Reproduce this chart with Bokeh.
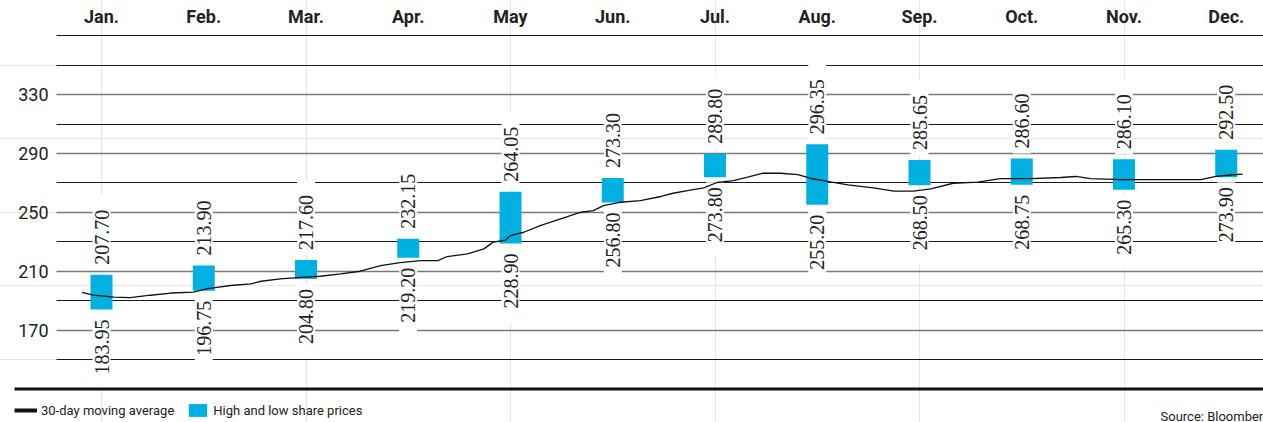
import numpy as np
from bokeh.plotting import figure
from bokeh.models import (Range1d, FixedTicker, Grid, BoxAnnotation, Legend,
                          LegendItem, Label, ColumnDataSource)
from bokeh.core.properties import value
from bokeh.embed import file_html
from bokeh.resources import INLINE

# ---------------- data ----------------
months = ["Jan.", "Feb.", "Mar.", "Apr.", "May", "Jun.", "Jul.", "Aug.",
          "Sep.", "Oct.", "Nov.", "Dec."]
month_idx = list(range(12))
high = [207.70, 213.90, 217.60, 232.15, 264.05, 273.30, 289.80, 296.35,
        285.65, 286.60, 286.10, 292.50]
low = [183.95, 196.75, 204.80, 219.20, 228.90, 256.80, 273.80, 255.20,
       268.50, 268.75, 265.30, 273.90]

y_label_ticks = [170, 210, 250, 290, 330]
y_label_text = ["170", "210", "250", "290", "330"]
y_plain_ticks = [150, 190, 230, 270, 310, 350, 370]
base_value = 130

# 30-day moving average (x in month positions)
ma_pos = [-0.19, -0.08, 0.12, 0.28, 0.48, 0.68, 0.90, 1.04, 1.13, 1.26, 1.46,
          1.56, 1.75, 1.95, 2.14, 2.34, 2.53, 2.73, 2.92, 3.12, 3.29, 3.38,
          3.58, 3.74, 3.83, 3.95, 4.00, 4.13, 4.29, 4.49, 4.69, 4.81, 4.91,
          5.08, 5.27, 5.47, 5.59, 5.73, 5.89, 6.02, 6.18, 6.32, 6.47, 6.64,
          6.81, 6.93, 7.10, 7.30, 7.55, 7.75, 7.94, 8.11, 8.33, 8.57, 8.79,
          9.09, 9.38, 9.53, 9.67, 9.97, 10.26, 10.55, 10.75, 10.90, 11.04, 11.16]
ma_val = [195.7, 193.8, 192.4, 192.1, 193.7, 195.2, 195.8, 198.2, 199.1, 200.3,
          201.4, 203.2, 204.8, 205.9, 206.6, 208.2, 210.0, 213.8, 215.9, 217.2,
          217.2, 220.0, 221.8, 225.2, 229.8, 231.2, 234.2, 236.5, 241.0, 245.6,
          250.1, 251.2, 254.6, 256.9, 258.0, 260.8, 263.0, 264.8, 266.7, 270.3,
          271.6, 273.9, 276.7, 276.6, 275.7, 273.2, 271.0, 268.7, 266.7, 264.4,
          264.4, 266.0, 269.8, 270.5, 273.0, 273.0, 273.7, 274.4, 273.0, 272.3,
          272.3, 272.3, 272.3, 274.4, 275.4, 276.0]

legend_labels = ["30-day moving average", "High and low share prices"]
source_text = "Source: Bloomberg"

# ---------------- layout / style ----------------
BAR_COLOR = "#00b0e0"
TEXT_COLOR = "#222222"
FONT = "Roboto"
NARROW = "Liberation Sans Narrow"

PX_PER_MONTH = 102.25
X0, X1 = -101 / PX_PER_MONTH, 1162 / PX_PER_MONTH      # full canvas width
GRID_X0 = -45 / PX_PER_MONTH                           # where grid lines start
RULE_X0 = -87 / PX_PER_MONTH                           # where base rule starts

p = figure(width=1263, height=422,
           x_range=Range1d(X0, X1), y_range=Range1d(107.21, 393.99),
           x_axis_location=None, y_axis_location=None,
           toolbar_location=None, output_backend="svg",
           min_border_left=0, min_border_right=0,
           min_border_top=0, min_border_bottom=0)
p.outline_line_color = None
p.background_fill_color = "white"
p.border_fill_color = "white"

# grids
g1 = Grid(dimension=1, ticker=FixedTicker(ticks=y_plain_ticks),
          cross_bounds=(GRID_X0, X1),
          grid_line_color="#1a1a1a", grid_line_width=1)
g2 = Grid(dimension=1, ticker=FixedTicker(ticks=y_label_ticks),
          cross_bounds=(GRID_X0, X1),
          grid_line_color="#7a7a7a", grid_line_width=1.6)
p.add_layout(g1)
p.add_layout(g2)

# y tick labels
p.text(x=GRID_X0, y=y_label_ticks, text=y_label_text, x_offset=-8,
       text_align="right", text_baseline="middle",
       text_font=value(FONT), text_font_size="18px", text_color=TEXT_COLOR)

# bars
src = ColumnDataSource(dict(
    x=month_idx, high=high, low=low,
    high_txt=["%.2f" % v for v in high],
    low_txt=["%.2f" % v for v in low],
))
bars = p.vbar(x="x", width=0.215, top="high", bottom="low", source=src,
              fill_color=BAR_COLOR, line_color=None)

# value labels
p.text(x="x", y="high", text="high_txt", source=src, angle=np.pi / 2,
       text_align="left", text_baseline="middle", y_offset=-5,
       text_font=value(NARROW), text_font_size="20px", text_color=TEXT_COLOR,
       background_fill_color="white",
       padding=dict(left=5, right=15, top=2, bottom=2))
p.text(x="x", y="low", text="low_txt", source=src, angle=np.pi / 2,
       text_align="right", text_baseline="middle", y_offset=5,
       text_font=value(NARROW), text_font_size="20px", text_color=TEXT_COLOR,
       background_fill_color="white",
       padding=dict(left=14, right=5, top=2, bottom=2))

# moving average
p.line(ma_pos, ma_val, line_color="#111111", line_width=1.3)

# month header labels
p.text(x=month_idx, y=max(y_plain_ticks), text=months, y_offset=-19,
       text_align="center", text_baseline="middle",
       text_font=value(FONT), text_font_style="bold", text_font_size="18px",
       text_color=TEXT_COLOR)

# thick base rule
p.add_layout(BoxAnnotation(left=RULE_X0, right=X1,
                           bottom=base_value - 1, top=base_value + 1,
                           fill_color="#111111", fill_alpha=1, line_color=None))

# legend (the line key is a thick stroke, as in the original)
proxy = p.line([float("nan")], [float("nan")], line_color="#111111", line_width=4)
legend = Legend(items=[LegendItem(label=legend_labels[0], renderers=[proxy]),
                       LegendItem(label=legend_labels[1], renderers=[bars])],
                location=(14, 4), orientation="horizontal",
                glyph_width=23, glyph_height=16, label_height=16,
                label_standoff=4, spacing=12, padding=0, margin=0,
                border_line_color=None, background_fill_alpha=0,
                label_text_font=FONT, label_text_font_size="13px",
                label_text_color=TEXT_COLOR)
p.add_layout(legend)

p.add_layout(Label(x=1160, y=6, x_units="screen", y_units="screen",
                   text=source_text, text_font=FONT, text_font_size="13px",
                   text_baseline="alphabetic", text_color=TEXT_COLOR))

open("out.html", "w").write(file_html(p, INLINE))
